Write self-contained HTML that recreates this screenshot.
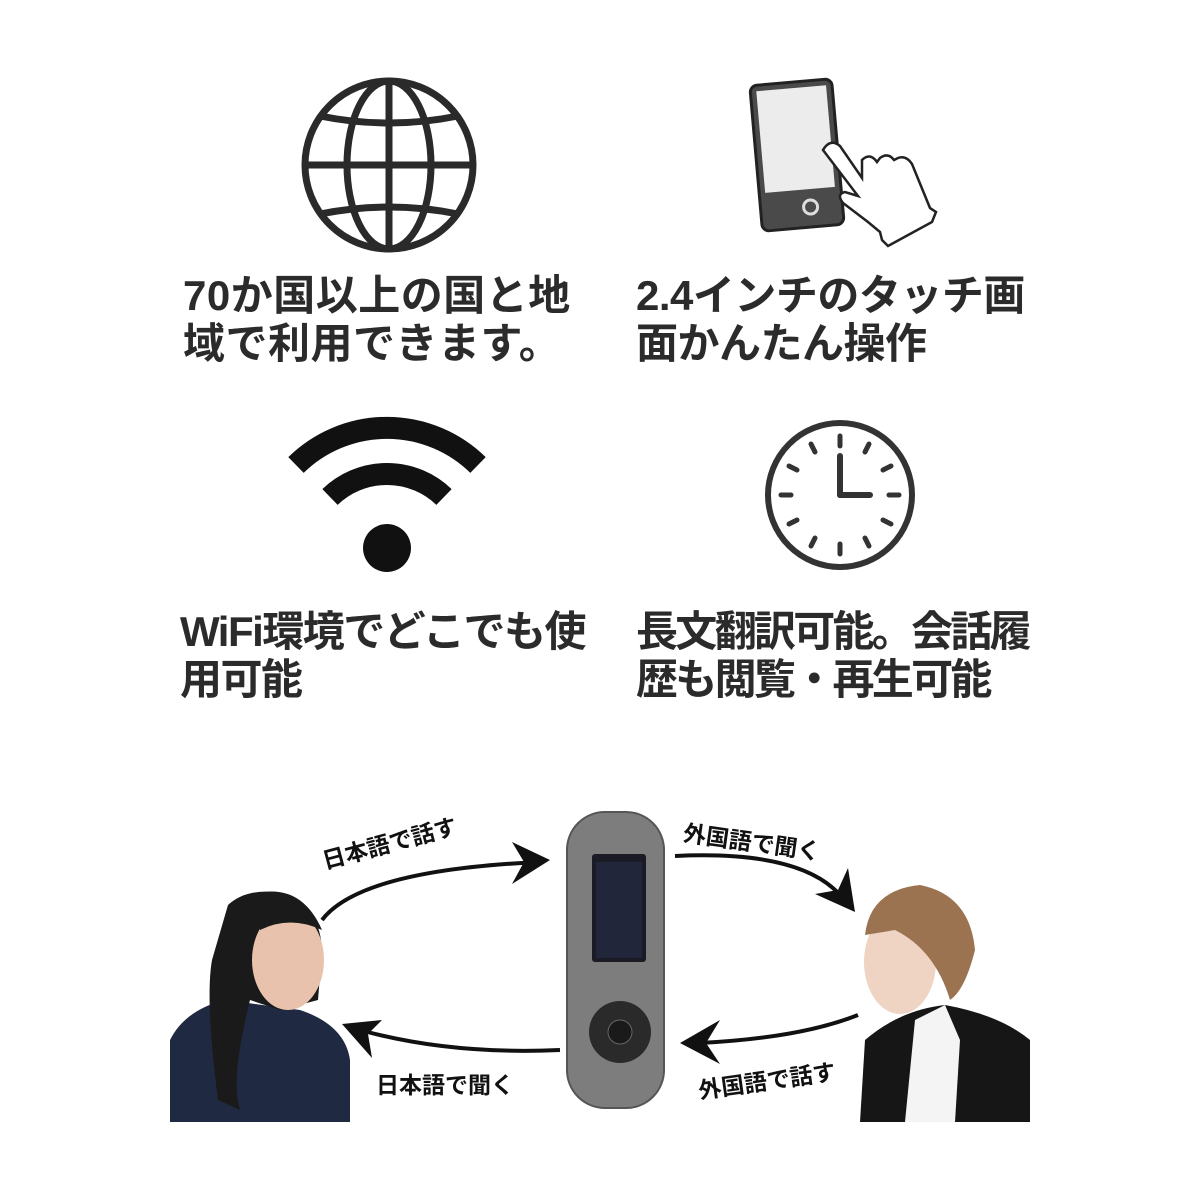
<!DOCTYPE html>
<html><head><meta charset="utf-8"><style>
html,body{margin:0;padding:0;background:#fff;}
body{width:1200px;height:1200px;position:relative;overflow:hidden;font-family:"Liberation Sans","Noto Sans CJK JP",sans-serif;}
.t{position:absolute;font-size:42px;font-weight:700;color:#2b2b2b;line-height:48px;letter-spacing:0px;white-space:nowrap;}
.l{position:absolute;font-size:23px;font-weight:700;color:#111;white-space:nowrap;}
</style></head><body>
<svg width="1200" height="1200" style="position:absolute;left:0;top:0">
 <g fill="none" stroke="#2a2a2a" stroke-width="7">
  <circle cx="389" cy="165" r="84"/>
  <ellipse cx="389" cy="165" rx="42" ry="84"/>
  <line x1="389" y1="81" x2="389" y2="249"/>
  <line x1="305" y1="165" x2="473" y2="165"/>
  <path d="M320 116 Q389 130 458 116"/>
  <path d="M320 214 Q389 200 458 214"/>
 </g>
 <g transform="rotate(-5 797 155)">
  <rect x="756" y="82" width="82" height="146" rx="7" fill="#4a4a4a" stroke="#222" stroke-width="3"/>
  <rect x="762" y="88" width="70" height="102" fill="#ececec"/>
  <circle cx="806" cy="208" r="7" fill="none" stroke="#ddd" stroke-width="3"/>
 </g>
 <path d="M823 150 Q830 138 840 146 L862 178 L862 160 Q870 152 877 162 L880 158 Q888 152 894 160 L898 158 Q906 155 912 164 L930 208 L936 212 L932 222 L888 246 L882 240 L880 232 L868 222 L843 203 Q836 194 845 192 L858 196 Z" fill="#fff" stroke="#222" stroke-width="2.5"/>
 <g fill="none" stroke="#111">
  <path d="M296 465 A130 130 0 0 1 478 465" stroke-width="22"/>
  <path d="M330 497 A82 82 0 0 1 444 497" stroke-width="22"/>
 </g>
 <circle cx="387" cy="548" r="24" fill="#111"/>
 <circle cx="840" cy="495" r="72" fill="none" stroke="#333" stroke-width="6"/>
 <g stroke="#333" stroke-width="5" stroke-linecap="round">
  <line x1="840" y1="436" x2="840" y2="446"/>
  <line x1="840" y1="544" x2="840" y2="554"/>
  <line x1="781" y1="495" x2="791" y2="495"/>
  <line x1="889" y1="495" x2="899" y2="495"/>
  <line x1="869" y1="444" x2="865" y2="452"/>
  <line x1="891" y1="466" x2="883" y2="470"/>
  <line x1="891" y1="524" x2="883" y2="520"/>
  <line x1="869" y1="546" x2="865" y2="538"/>
  <line x1="811" y1="546" x2="815" y2="538"/>
  <line x1="789" y1="524" x2="797" y2="520"/>
  <line x1="789" y1="466" x2="797" y2="470"/>
  <line x1="811" y1="444" x2="815" y2="452"/>
 </g>
 <g stroke="#333" stroke-width="6" stroke-linecap="round">
  <line x1="840" y1="495" x2="840" y2="456"/>
  <line x1="840" y1="495" x2="870" y2="495"/>
 </g>
 <path d="M170 1122 L170 1040 Q185 1010 225 1000 L300 1010 Q345 1025 350 1060 L350 1122 Z" fill="#1f2a42"/>
 <path d="M228 905 Q250 885 290 895 Q320 910 322 950 L318 1000 L280 1010 L250 1000 Q230 1080 240 1110 L218 1100 Q205 1000 212 960 Z" fill="#1a1a1a"/>
 <ellipse cx="288" cy="960" rx="36" ry="50" fill="#e8c2ad"/>
 <path d="M250 895 Q300 880 322 930 Q290 915 260 930 Z" fill="#1a1a1a"/>
 <path d="M860 1122 L865 1040 Q900 1010 945 1005 Q1000 1015 1030 1040 L1030 1122 Z" fill="#161616"/>
 <path d="M915 1020 L945 1005 L960 1040 L955 1122 L905 1122 Z" fill="#f4f4f4"/>
 <ellipse cx="900" cy="962" rx="36" ry="52" fill="#efd4c4"/>
 <path d="M865 935 Q870 890 920 885 Q970 895 975 950 Q965 990 950 1000 Q935 950 895 930 Z" fill="#9b7350"/>
 <rect x="567" y="812" width="97" height="296" rx="38" fill="#7d7d7d" stroke="#555" stroke-width="2"/>
 <rect x="592" y="854" width="54" height="108" rx="3" fill="#1b1b25"/>
 <rect x="596" y="862" width="46" height="96" fill="#22263a"/>
 <circle cx="620" cy="1032" r="31" fill="#2a2a2a"/>
 <circle cx="620" cy="1032" r="12" fill="#1a1a1a" stroke="#666" stroke-width="1"/>
 <g fill="none" stroke="#111" stroke-width="4">
  <path d="M322 920 Q360 870 540 862"/>
  <path d="M675 856 Q800 850 840 895"/>
  <path d="M858 1015 Q800 1038 700 1043"/>
  <path d="M560 1050 Q450 1055 360 1030"/>
 </g>
 <g fill="#111">
  <path d="M512 842 L550 860 L512 884 L524 862 Z"/>
  <path d="M848 868 L855 912 L815 894 L838 890 Z"/>
  <path d="M720 1020 L680 1043 L720 1064 L706 1043 Z"/>
  <path d="M382 1020 L342 1024 L372 1058 L368 1034 Z"/>
 </g>
</svg>
<div class="t" style="left:183px;top:272px;letter-spacing:0.5px">70か国以上の国と地<br>域で利用できます。</div>
<div class="t" style="left:636px;top:272px;letter-spacing:-0.5px">2.4インチのタッチ画<br>面かんたん操作</div>
<div class="t" style="left:180px;top:608px;letter-spacing:-1.5px">WiFi環境でどこでも使<br>用可能</div>
<div class="t" style="left:636px;top:608px;letter-spacing:-2.7px">長文翻訳可能。会話履<br>歴も閲覧・再生可能</div>
<div class="l" style="left:318px;top:843px;transform:rotate(-15deg);transform-origin:left top">日本語で話す</div>
<div class="l" style="left:686px;top:814px;transform:rotate(8deg);transform-origin:left top">外国語で聞く</div>
<div class="l" style="left:376px;top:1066px">日本語で聞く</div>
<div class="l" style="left:696px;top:1072px;transform:rotate(-8deg);transform-origin:left top">外国語で話す</div>
</body></html>
